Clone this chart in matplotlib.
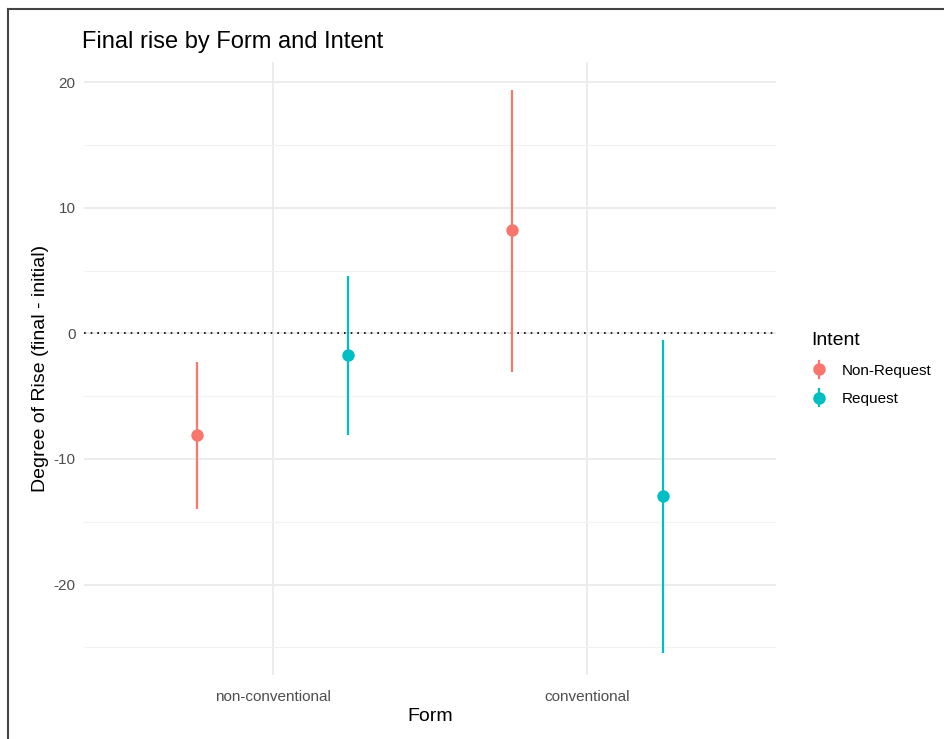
import numpy as np
import matplotlib.pyplot as plt
from matplotlib.lines import Line2D
from matplotlib.legend_handler import HandlerBase

plt.rcParams['font.family'] = ['Liberation Sans', 'DejaVu Sans']
plt.rcParams['axes.unicode_minus'] = False

# Estimated marginal means with 95% intervals
forms = ["non-conventional", "conventional"]
intents = ["Non-Request", "Request"]
colors = ["#F8766D", "#00BFC4"]
means = {"Non-Request": [-8.1, 8.2], "Request": [-1.75, -12.95]}
lower = {"Non-Request": [-14.0, -3.05], "Request": [-8.1, -25.45]}
upper = {"Non-Request": [-2.25, 19.4], "Request": [4.55, -0.55]}


class PointRangeHandler(HandlerBase):
    # legend key: vertical segment with a dot in the middle
    def create_artists(self, legend, orig_handle, xdescent, ydescent,
                       width, height, fontsize, trans):
        c = orig_handle.get_color()
        cx = width / 2 - xdescent
        cy = height / 2 - ydescent
        seg = Line2D([cx, cx], [cy - height * 0.8, cy + height * 0.8],
                     color=c, lw=1.6, transform=trans)
        dot = Line2D([cx], [cy], marker="o", markersize=9, color=c,
                     lw=0, markeredgewidth=0, transform=trans)
        return [seg, dot]


fig = plt.figure(figsize=(9.44, 7.39), dpi=100)
ax = fig.add_axes([0.089, 0.0866, 0.733, 0.8295])

x = np.arange(1, len(forms) + 1)
dodge = [-0.24, 0.24]
for k, intent in enumerate(intents):
    xs = x + dodge[k]
    ax.vlines(xs, lower[intent], upper[intent], color=colors[k], lw=1.6, zorder=3)
    ax.scatter(xs, means[intent], s=80, color=colors[k], zorder=4, linewidths=0)

ax.axhline(0, color="black", ls=(0, (1, 3)), lw=1.2, zorder=2)

ax.set_xlim(0.4, 2.6)
ax.set_ylim(-27.2, 21.6)
ax.set_xticks(x)
ax.set_xticklabels(forms)
ax.set_yticks([-20, -10, 0, 10, 20])
ax.set_yticks([-25, -15, -5, 5, 15], minor=True)

ax.grid(True, which="major", color="#EBEBEB", lw=1.3, zorder=0)
ax.grid(True, which="minor", axis="y", color="#F2F2F2", lw=0.8, zorder=0)
ax.set_axisbelow(True)
for s in ax.spines.values():
    s.set_visible(False)
ax.tick_params(which="both", length=0, labelsize=11, labelcolor="#4D4D4D")
ax.tick_params(axis="x", pad=11)
ax.tick_params(axis="y", pad=6)

ax.set_xlabel("Form", fontsize=14, labelpad=3)
ax.set_ylabel("Degree of Rise (final - initial)", fontsize=14)
ax.yaxis.set_label_coords(-0.051, 0.5)
ax.set_title("Final rise by Form and Intent", fontsize=17, loc="left", x=-0.003, pad=10)

handles = [Line2D([0], [0], color=c) for c in colors]
leg = fig.legend(handles, intents, title="Intent", loc="upper left",
                 bbox_to_anchor=(0.845, 0.569), frameon=False, fontsize=11,
                 title_fontsize=14, handlelength=1.0, handletextpad=1.0,
                 labelspacing=0.95, handler_map={Line2D: PointRangeHandler()})
leg._legend_box.align = "left"

# thin frame along the top and left edge
fig.add_artist(Line2D([0.0085, 1.0], [0.988, 0.988], color="#444444", lw=1.5))
fig.add_artist(Line2D([0.0085, 0.0085], [0.0, 0.988], color="#444444", lw=1.5))

fig.savefig("out.png", dpi=100)
